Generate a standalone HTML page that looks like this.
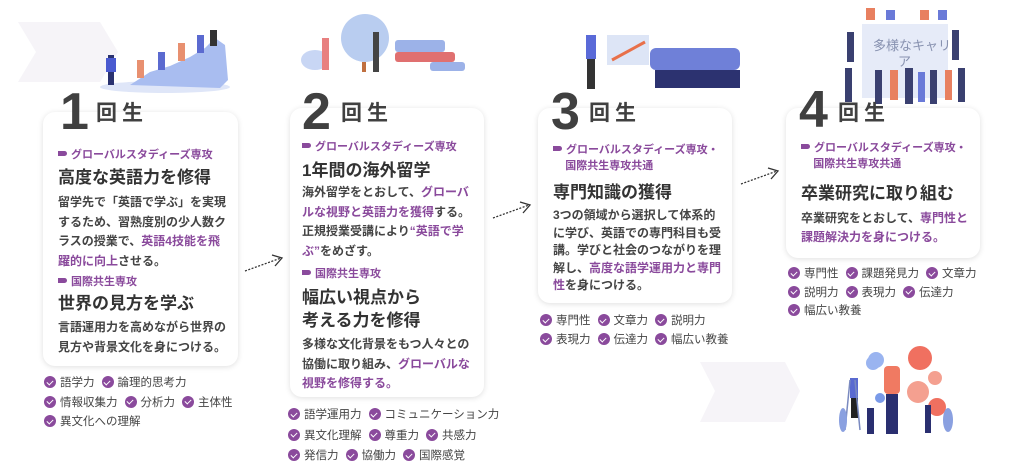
<!DOCTYPE html>
<html><head><meta charset="utf-8"><style>
*{margin:0;padding:0;box-sizing:border-box}
body{width:1024px;height:469px;background:#fff;position:relative;overflow:hidden;font-family:"Liberation Sans","Noto Sans CJK JP",sans-serif;color:#3a3a3a}
.abs{position:absolute}
.card{position:absolute;background:#fff;border-radius:12px;box-shadow:0 1px 6px rgba(0,0,0,.13)}
.num{position:absolute;font-size:52px;font-weight:700;color:#404040;line-height:1}
.kai{position:absolute;font-size:21px;font-weight:700;color:#404040;letter-spacing:5px;line-height:1}
.tag{position:absolute;font-size:11px;font-weight:700;color:#8a4a9c;line-height:16px;white-space:nowrap}
.tag:before{content:"";display:inline-block;width:9px;height:5px;background:#8a4a9c;border-radius:0 3px 3px 0;margin-right:4px;vertical-align:2px}
.h{position:absolute;font-size:17px;font-weight:700;color:#333;line-height:23px;white-space:nowrap}
.b{position:absolute;font-size:12px;font-weight:700;color:#444;line-height:19.5px;white-space:nowrap}
.p{color:#8a4a9c}
.sk{position:absolute;font-size:11.5px;color:#444;line-height:19.5px;white-space:nowrap}
.sk i{display:inline-block;width:12px;height:12px;border-radius:50%;background:#8a4a9c;vertical-align:-2px;margin-right:4px;position:relative}
.sk i:after{content:"";position:absolute;left:3.5px;top:2.5px;width:3px;height:5px;border:solid #fff;border-width:0 1.6px 1.6px 0;transform:rotate(45deg)}
.sk span{margin-right:7px}
</style></head><body>
<!-- chevrons -->
<svg class="abs" style="left:0;top:0" width="1024" height="469">
<polygon points="18,22 100,22 118,52 100,82 18,82 36,52" fill="#f6f4f8"/>
<polygon points="700,362 785,362 800,391 785,422 700,422 715,391" fill="#f6f4f8"/>
<!-- illus 1 -->
<ellipse cx="165" cy="87" rx="65" ry="6" fill="#dfe6f8"/>
<path d="M130,85 L150,72 170,66 190,57 205,48 215,38 225,45 228,80 220,88 Z" fill="#a9bdf0"/>
<rect x="108" y="55" width="6" height="30" fill="#2a3270"/><rect x="106" y="58" width="10" height="14" fill="#4a5ad0"/>
<rect x="137" y="60" width="7" height="18" fill="#e89070"/><rect x="158" y="52" width="7" height="18" fill="#5b6ad0"/><rect x="178" y="43" width="7" height="18" fill="#e89070"/><rect x="197" y="35" width="7" height="18" fill="#5b6ad0"/><rect x="210" y="30" width="7" height="16" fill="#333"/>
<!-- illus 2 -->
<circle cx="365" cy="38" r="24" fill="#b9cdf0"/><rect x="362" y="62" width="4" height="10" fill="#c07040"/>
<rect x="395" y="40" width="50" height="12" rx="3" fill="#9cb2e8"/><rect x="395" y="52" width="60" height="10" rx="3" fill="#e07070"/><rect x="430" y="62" width="35" height="9" rx="3" fill="#9cb2e8"/>
<ellipse cx="315" cy="60" rx="14" ry="10" fill="#c8d6f4"/><rect x="322" y="38" width="7" height="32" fill="#e88080"/><rect x="373" y="32" width="6" height="40" fill="#444"/>
<!-- illus 3 -->
<rect x="607" y="35" width="42" height="30" fill="#dde5f6"/><path d="M612,60 L645,42" stroke="#e8704a" stroke-width="3"/>
<rect x="586" y="35" width="10" height="24" fill="#5a6ad8"/><rect x="587" y="59" width="8" height="30" fill="#333"/>
<rect x="650" y="48" width="90" height="22" rx="6" fill="#6f80d8"/><rect x="655" y="70" width="85" height="18" fill="#2c3270"/>
<!-- illus 4 -->
<rect x="862" y="24" width="86" height="74" fill="#e6ebf8"/>
<text x="873" y="50" font-size="13" fill="#8892b0" font-family="Liberation Sans,Noto Sans CJK JP,sans-serif">多様なキャリ</text>
<text x="898" y="66" font-size="13" fill="#8892b0" font-family="Liberation Sans,Noto Sans CJK JP,sans-serif">ア</text>
<g fill="#3a4070"><rect x="847" y="32" width="7" height="30"/><rect x="952" y="30" width="7" height="30"/><rect x="845" y="68" width="7" height="34"/><rect x="958" y="68" width="7" height="34"/><rect x="875" y="70" width="7" height="34"/><rect x="905" y="68" width="8" height="36"/><rect x="930" y="70" width="7" height="34"/></g>
<g fill="#e88060"><rect x="866" y="8" width="9" height="12"/><rect x="920" y="10" width="9" height="10"/><rect x="890" y="70" width="8" height="30"/><rect x="945" y="70" width="7" height="30"/></g>
<g fill="#6a7ad8"><rect x="886" y="10" width="9" height="10"/><rect x="938" y="10" width="9" height="10"/><rect x="918" y="72" width="7" height="30"/></g>
<!-- bottom right illus -->
<circle cx="920" cy="358" r="12" fill="#f07060"/><circle cx="918" cy="392" r="11" fill="#f4a090"/><circle cx="935" cy="378" r="7" fill="#f4a090"/><circle cx="937" cy="407" r="9" fill="#f07060"/>
<circle cx="873" cy="363" r="7" fill="#9ab4f0"/><circle cx="876" cy="360" r="8" fill="#9ab4f0"/><circle cx="880" cy="398" r="5" fill="#7a9ae8"/>
<rect x="884" y="366" width="16" height="28" rx="4" fill="#f07a62"/><rect x="886" y="394" width="12" height="40" fill="#2a2f70"/>
<rect x="850" y="378" width="8" height="20" fill="#5a6ad0"/><rect x="851" y="398" width="7" height="20" fill="#222"/>
<rect x="867" y="408" width="7" height="26" fill="#2a2f70"/><rect x="925" y="405" width="6" height="28" fill="#2a2f70"/>
<path d="M845,430 L850,380 M860,430 L855,380" stroke="#7a8ac0" stroke-width="1.5"/>
<ellipse cx="843" cy="420" rx="4" ry="12" fill="#8aa0e0"/><ellipse cx="948" cy="420" rx="5" ry="12" fill="#8aa0e0"/>
<!-- arrows -->
<g stroke="#333" fill="none" stroke-width="1.3">
<path d="M245,271 L281,258" stroke-dasharray="2,1.5"/><path d="M272,255 L282,258 L275,266"/>
<path d="M493,218 L529,205" stroke-dasharray="2,1.5"/><path d="M520,202 L530,205 L523,213"/>
<path d="M741,184 L777,171" stroke-dasharray="2,1.5"/><path d="M768,168 L778,171 L771,179"/>
</g>
</svg>

<!-- Card 1 -->
<div class="card" style="left:43px;top:112px;width:195px;height:254px"></div>
<div class="num" style="left:60px;top:86px">1</div><div class="kai" style="left:96px;top:103px">回生</div>
<div class="tag" style="left:58px;top:147px">グローバルスタディーズ専攻</div>
<div class="h" style="left:58px;top:166px">高度な英語力を修得</div>
<div class="b" style="left:58px;top:193px">留学先で「英語で学ぶ」を実現<br>するため、習熟度別の少人数ク<br>ラスの授業で、<span class="p">英語4技能を飛</span><br><span class="p">躍的に向上</span>させる。</div>
<div class="tag" style="left:58px;top:274px">国際共生専攻</div>
<div class="h" style="left:58px;top:292px">世界の見方を学ぶ</div>
<div class="b" style="left:58px;top:318px">言語運用力を高めながら世界の<br>見方や背景文化を身につける。</div>
<div class="sk" style="left:44px;top:374px"><span><i></i>語学力</span><span><i></i>論理的思考力</span><br><span><i></i>情報収集力</span><span><i></i>分析力</span><span><i></i>主体性</span><br><span><i></i>異文化への理解</span></div>

<!-- Card 2 -->
<div class="card" style="left:290px;top:108px;width:194px;height:289px"></div>
<div class="num" style="left:302px;top:86px">2</div><div class="kai" style="left:341px;top:103px">回生</div>
<div class="tag" style="left:302px;top:139px">グローバルスタディーズ専攻</div>
<div class="h" style="left:302px;top:159px">1年間の海外留学</div>
<div class="b" style="left:302px;top:183px">海外留学をとおして、<span class="p">グローバ</span><br><span class="p">ルな視野と英語力を獲得</span>する。<br>正規授業受講により<span class="p">“英語で学</span><br><span class="p">ぶ”</span>をめざす。</div>
<div class="tag" style="left:302px;top:266px">国際共生専攻</div>
<div class="h" style="left:302px;top:286px">幅広い視点から<br>考える力を修得</div>
<div class="b" style="left:302px;top:335px">多様な文化背景をもつ人々との<br>協働に取り組み、<span class="p">グローバルな</span><br><span class="p">視野を修得する。</span></div>
<div class="sk" style="left:288px;top:405px;line-height:20.5px"><span><i></i>語学運用力</span><span><i></i>コミュニケーション力</span><br><span><i></i>異文化理解</span><span><i></i>尊重力</span><span><i></i>共感力</span><br><span><i></i>発信力</span><span><i></i>協働力</span><span><i></i>国際感覚</span></div>

<!-- Card 3 -->
<div class="card" style="left:538px;top:108px;width:194px;height:195px"></div>
<div class="num" style="left:551px;top:86px">3</div><div class="kai" style="left:589px;top:103px">回生</div>
<div class="tag" style="left:553px;top:142px">グローバルスタディーズ専攻・<br>&nbsp;&nbsp;&nbsp;&nbsp;国際共生専攻共通</div>
<div class="tag" style="left:553px;top:158px;visibility:hidden"></div>
<div class="h" style="left:553px;top:181px">専門知識の獲得</div>
<div class="b" style="left:553px;top:207px;line-height:17.5px">3つの領域から選択して体系的<br>に学び、英語での専門科目も受<br>講。学びと社会のつながりを理<br>解し、<span class="p">高度な語学運用力と専門</span><br><span class="p">性</span>を身につける。</div>
<div class="sk" style="left:540px;top:312px;line-height:19px"><span><i></i>専門性</span><span><i></i>文章力</span><span><i></i>説明力</span><br><span><i></i>表現力</span><span><i></i>伝達力</span><span><i></i>幅広い教養</span></div>

<!-- Card 4 -->
<div class="card" style="left:786px;top:108px;width:194px;height:150px"></div>
<div class="num" style="left:799px;top:84px">4</div><div class="kai" style="left:838px;top:103px">回生</div>
<div class="tag" style="left:801px;top:140px">グローバルスタディーズ専攻・<br>&nbsp;&nbsp;&nbsp;&nbsp;国際共生専攻共通</div>
<div class="h" style="left:801px;top:182px">卒業研究に取り組む</div>
<div class="b" style="left:801px;top:209px;line-height:19px">卒業研究をとおして、<span class="p">専門性と</span><br><span class="p">課題解決力を身につける。</span></div>
<div class="sk" style="left:788px;top:265px;line-height:18.5px"><span><i></i>専門性</span><span><i></i>課題発見力</span><span><i></i>文章力</span><br><span><i></i>説明力</span><span><i></i>表現力</span><span><i></i>伝達力</span><br><span><i></i>幅広い教養</span></div>
</body></html>
